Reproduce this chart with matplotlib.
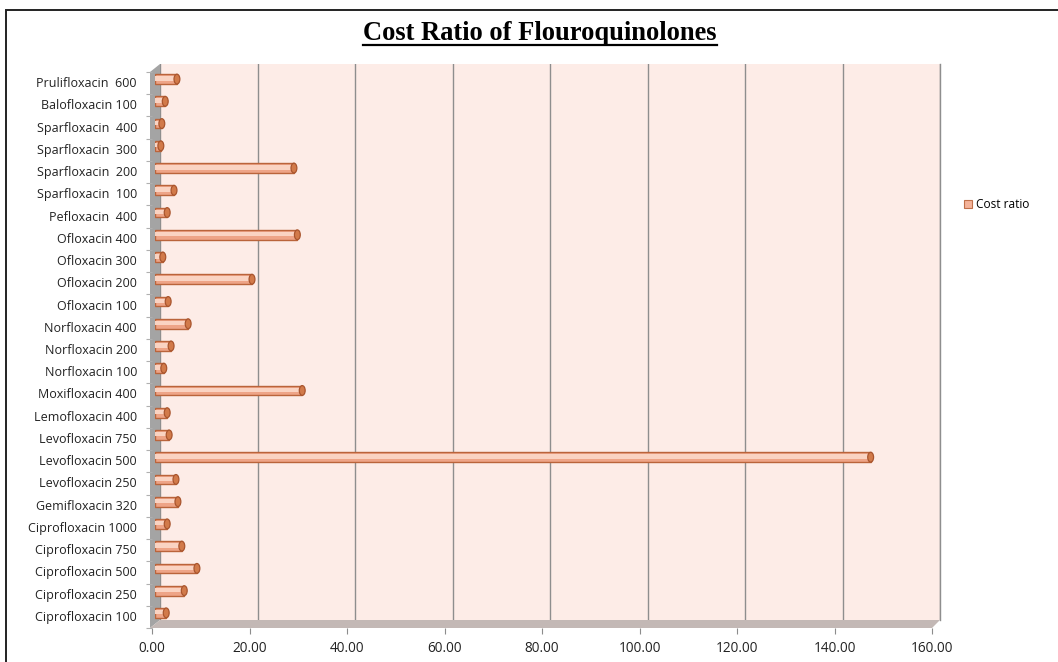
import numpy as np
import matplotlib
matplotlib.use("Agg")
import matplotlib.pyplot as plt
from matplotlib.patches import Ellipse, Patch, Polygon, Rectangle
from matplotlib.transforms import ScaledTranslation

# Drugs listed bottom-to-top, as they appear on the category axis
drugs = [
    "Ciprofloxacin 100", "Ciprofloxacin 250", "Ciprofloxacin 500",
    "Ciprofloxacin 750", "Ciprofloxacin 1000", "Gemifloxacin 320",
    "Levofloxacin 250", "Levofloxacin 500", "Levofloxacin 750",
    "Lemofloxacin 400", "Moxifloxacin 400", "Norfloxacin 100",
    "Norfloxacin 200", "Norfloxacin 400", "Ofloxacin 100",
    "Ofloxacin 200", "Ofloxacin 300", "Ofloxacin 400",
    "Pefloxacin  400", "Sparfloxacin  100", "Sparfloxacin  200",
    "Sparfloxacin  300", "Sparfloxacin  400", "Balofloxacin 100",
    "Prulifloxacin  600",
]
cost_ratio = [
    2.3, 6.0, 8.6, 5.5, 2.5, 4.7,
    4.3, 146.8, 2.9, 2.5, 30.2, 1.8,
    3.3, 6.8, 2.7, 19.9, 1.6, 29.2,
    2.5, 3.9, 28.5, 1.2, 1.4, 2.1,
    4.5,
]
x_ticks = [0, 20, 40, 60, 80, 100, 120, 140, 160]
x_tick_labels = ["0.00", "20.00", "40.00", "60.00", "80.00",
                 "100.00", "120.00", "140.00", "160.00"]
title = "Cost Ratio of Flouroquinolones"
series_name = "Cost ratio"

W, H = 1058, 662
fig = plt.figure(figsize=(W / 100, H / 100), dpi=100)
fig.patch.set_facecolor("white")

LABEL_FONT = "Open Sans"


def px_axes(x0, x1, ytop, ybot, z):
    """Axes placed by pixel box (top-left origin)."""
    ax = fig.add_axes([x0 / W, 1 - ybot / H, (x1 - x0) / W, (ybot - ytop) / H],
                      zorder=z)
    ax.patch.set_alpha(0)
    for s in ax.spines.values():
        s.set_visible(False)
    ax.set_xlim(0, 160)
    ax.set_ylim(-0.5, len(drugs) - 0.5)
    return ax


def fig_poly(pts, **kw):
    """Polygon in pixel coordinates (top-left origin) on the figure."""
    verts = [(x / W, 1 - y / H) for x, y in pts]
    fig.patches.append(Polygon(verts, closed=True, transform=fig.transFigure,
                               figure=fig, **kw))


# Outer chart frame
fig.patches.append(Rectangle((6 / W, 1 - 700 / H), 1100 / W, 690 / H,
                             transform=fig.transFigure, figure=fig,
                             fill=False, edgecolor="#222222", linewidth=1.4))

# --- back wall with gridlines (pseudo-3D depth: 8 px) ---
ax_back = px_axes(160, 940, 64, 620, 1)
ax_back.patch.set_alpha(1)
ax_back.patch.set_facecolor("#FDECE7")
ax_back.set_xticks(x_ticks)
ax_back.set_yticks([])
ax_back.tick_params(axis="x", length=0, labelbottom=False)
ax_back.grid(axis="x", color="#8E8E8E", linewidth=1.0)
ax_back.axvline(160, color="#8E8E8E", linewidth=1.0, clip_on=False)

# side wall and floor
fig_poly([(150, 72), (160, 64), (160, 620), (150, 628)],
         facecolor="#A4A4A4", edgecolor="none", zorder=2)
fig_poly([(150, 628), (932, 628), (940, 620), (160, 620)],
         facecolor="#C3B8B5", edgecolor="none", zorder=2)

# --- front plane: tick marks and value labels ---
ax_front = px_axes(152, 932, 72, 628, 3)
ax_front.set_xticks(x_ticks)
ax_front.set_xticklabels(x_tick_labels, fontsize=9.8, color="#222222",
                         family=LABEL_FONT)
ax_front.tick_params(axis="x", length=4, width=0.8, color="#8C8C8C", pad=5)
ax_front.set_yticks(np.arange(len(drugs) + 1) - 0.5)
ax_front.set_yticklabels([])
ax_front.tick_params(axis="y", length=4, width=0.8, color="#B0B0B0", pad=2)

# --- mid plane: the bars ---
ax_bar = px_axes(155, 935, 68, 624, 4)
y = np.arange(len(drugs))
bh = 0.44
ax_bar.barh(y, cost_ratio, height=bh, color="#EEA487",
            edgecolor="#BA643B", linewidth=1.0, zorder=3)
ax_bar.barh(y + 0.03, cost_ratio, height=bh * 0.45, color="#FAD3C2",
            edgecolor="none", zorder=4)
for yi, v in zip(y, cost_ratio):
    ax_bar.add_patch(Ellipse((v, yi), width=1.2, height=bh,
                             facecolor="#D27A4A", edgecolor="#A9552E",
                             linewidth=0.9, zorder=5))
ax_bar.set_xticks([])
ax_bar.set_yticks(y)
ax_bar.set_yticklabels(drugs, fontsize=9, color="#222222", family=LABEL_FONT)
ax_bar.tick_params(axis="y", length=0, pad=13)
shift = ScaledTranslation(0, -3 / 100, fig.dpi_scale_trans)
for lbl in ax_bar.get_yticklabels():
    lbl.set_transform(lbl.get_transform() + shift)

# legend
handle = Patch(facecolor="#F4B39A", edgecolor="#C0704A", linewidth=0.8,
               label=series_name)
fig.legend(handles=[handle], loc="center left",
           bbox_to_anchor=(953 / W, 1 - 205 / H), frameon=False,
           handlelength=0.7, handleheight=0.7, handletextpad=0.35,
           prop={"family": LABEL_FONT, "size": 8.6})

# title, bold serif, underlined
t = fig.text(540 / W, 1 - 33 / H, title, ha="center", va="center",
             fontsize=17, fontweight="bold", family="Liberation Serif",
             color="black")
fig.canvas.draw()
bb = t.get_window_extent(renderer=fig.canvas.get_renderer())
target_w = 355.0
t.set_fontsize(17 * target_w / bb.width)
fig.canvas.draw()
bb = t.get_window_extent(renderer=fig.canvas.get_renderer())
fig.add_artist(plt.Line2D([bb.x0 / W, bb.x1 / W], [1 - 45 / H, 1 - 45 / H],
                          transform=fig.transFigure, color="black",
                          linewidth=1.6))

fig.savefig("out.png", dpi=100, facecolor="white")
